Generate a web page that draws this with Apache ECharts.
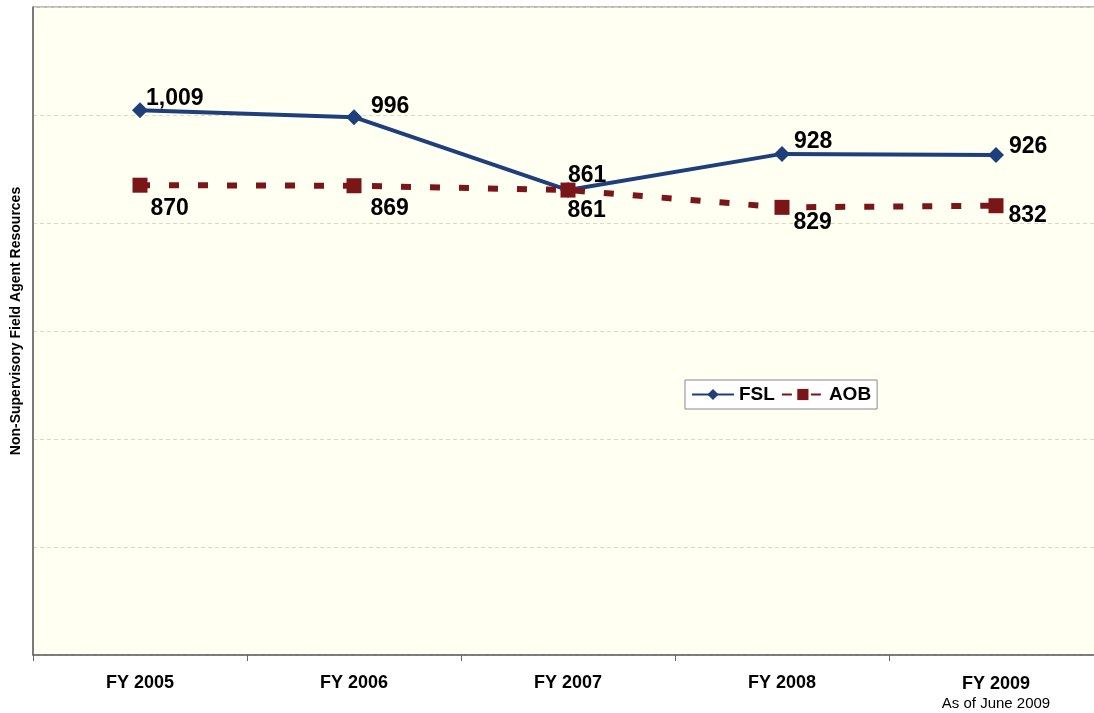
<!DOCTYPE html>
<html>
<head>
<meta charset="utf-8">
<script src="https://cdn.jsdelivr.net/npm/echarts@6/dist/echarts.min.js"></script>
<style>
  html, body { margin: 0; padding: 0; background: #fff; overflow: hidden; }
  #chart { width: 1103px; height: 713px; }
</style>
</head>
<body>
<div id="chart"></div>
<script>
const years = ['FY 2005', 'FY 2006', 'FY 2007', 'FY 2008', 'FY 2009'];
const fsl = [1009, 996, 861, 928, 926];
const aob = [870, 869, 861, 829, 832];

// label offsets (label placed to the right of the marker)
const fslOffsets = [[-7, -11], [4, -11], [-13, -14], [-1, -12], [0, -8]];
const aobOffsets = [[-2, 23], [4, 23], [-13, 21], [-1, 15], [0, 10]];

const fmt = p => p.value.toLocaleString('en-US');

function points(values, offsets) {
  return values.map((v, i) => ({
    value: v,
    label: { offset: offsets[i] }
  }));
}

const labelStyle = {
  show: true,
  position: 'right',
  distance: 5,
  formatter: fmt,
  color: '#000',
  fontFamily: 'Liberation Sans, Arial',
  fontWeight: 'bold',
  fontSize: 23
};

const chart = echarts.init(document.getElementById('chart'));
chart.setOption({
  animation: false,
  textStyle: { fontFamily: 'Liberation Sans, Arial' },
  grid: {
    left: 33, right: 0, top: 7, bottom: 58,
    show: true,
    backgroundColor: '#fffff2',
    borderColor: '#777',
    borderWidth: 1
  },
  legend: {
    left: 685, top: 380,
    backgroundColor: '#fff',
    borderColor: '#888',
    borderWidth: 1,
    borderRadius: 0,
    padding: [5, 6],
    itemWidth: 42,
    itemHeight: 14,
    itemGap: 6,
    textStyle: { fontWeight: 'bold', fontSize: 19, color: '#000' },
    data: ['FSL', 'AOB']
  },
  xAxis: {
    type: 'category',
    data: years,
    boundaryGap: true,
    axisLine: { lineStyle: { color: '#666', width: 1.5 } },
    axisTick: { show: true, length: 6, lineStyle: { color: '#666' } },
    axisLabel: {
      interval: 0,
      margin: 19,
      color: '#000',
      fontWeight: 'bold',
      fontSize: 18,
      formatter: (v, i) => i === years.length - 1 ? '{a|' + v + '}\n{b|As of June 2009}' : v,
      rich: {
        a: { fontWeight: 'bold', fontSize: 18, color: '#000', lineHeight: 20 },
        b: { fontWeight: 'normal', fontSize: 15, color: '#000', lineHeight: 20 }
      }
    }
  },
  yAxis: {
    type: 'value',
    min: 0, max: 1200, interval: 200,
    name: 'Non-Supervisory Field Agent Resources',
    nameLocation: 'middle',
    nameGap: 10,
    nameTextStyle: { fontWeight: 'bold', fontSize: 14, color: '#000', padding: [0, 0, 0, 20] },
    axisLine: { show: true, lineStyle: { color: '#666', width: 1.5 } },
    axisTick: { show: false },
    axisLabel: { show: false },
    splitLine: { lineStyle: { color: '#d2dcc6', type: [4, 3], width: 1 } }
  },
  series: [
    {
      name: 'FSL',
      type: 'line',
      data: points(fsl, fslOffsets),
      symbol: 'diamond',
      symbolSize: 16,
      lineStyle: { color: '#1f3f7c', width: 4 },
      itemStyle: { color: '#1f3f7c' },
      label: labelStyle,
      z: 3
    },
    {
      name: 'AOB',
      type: 'line',
      data: points(aob, aobOffsets),
      symbol: 'rect',
      symbolSize: 15,
      lineStyle: { color: '#7a1518', width: 6, type: [10, 19] },
      itemStyle: { color: '#7a1518' },
      label: labelStyle,
      z: 4
    }
  ]
});
</script>
</body>
</html>
